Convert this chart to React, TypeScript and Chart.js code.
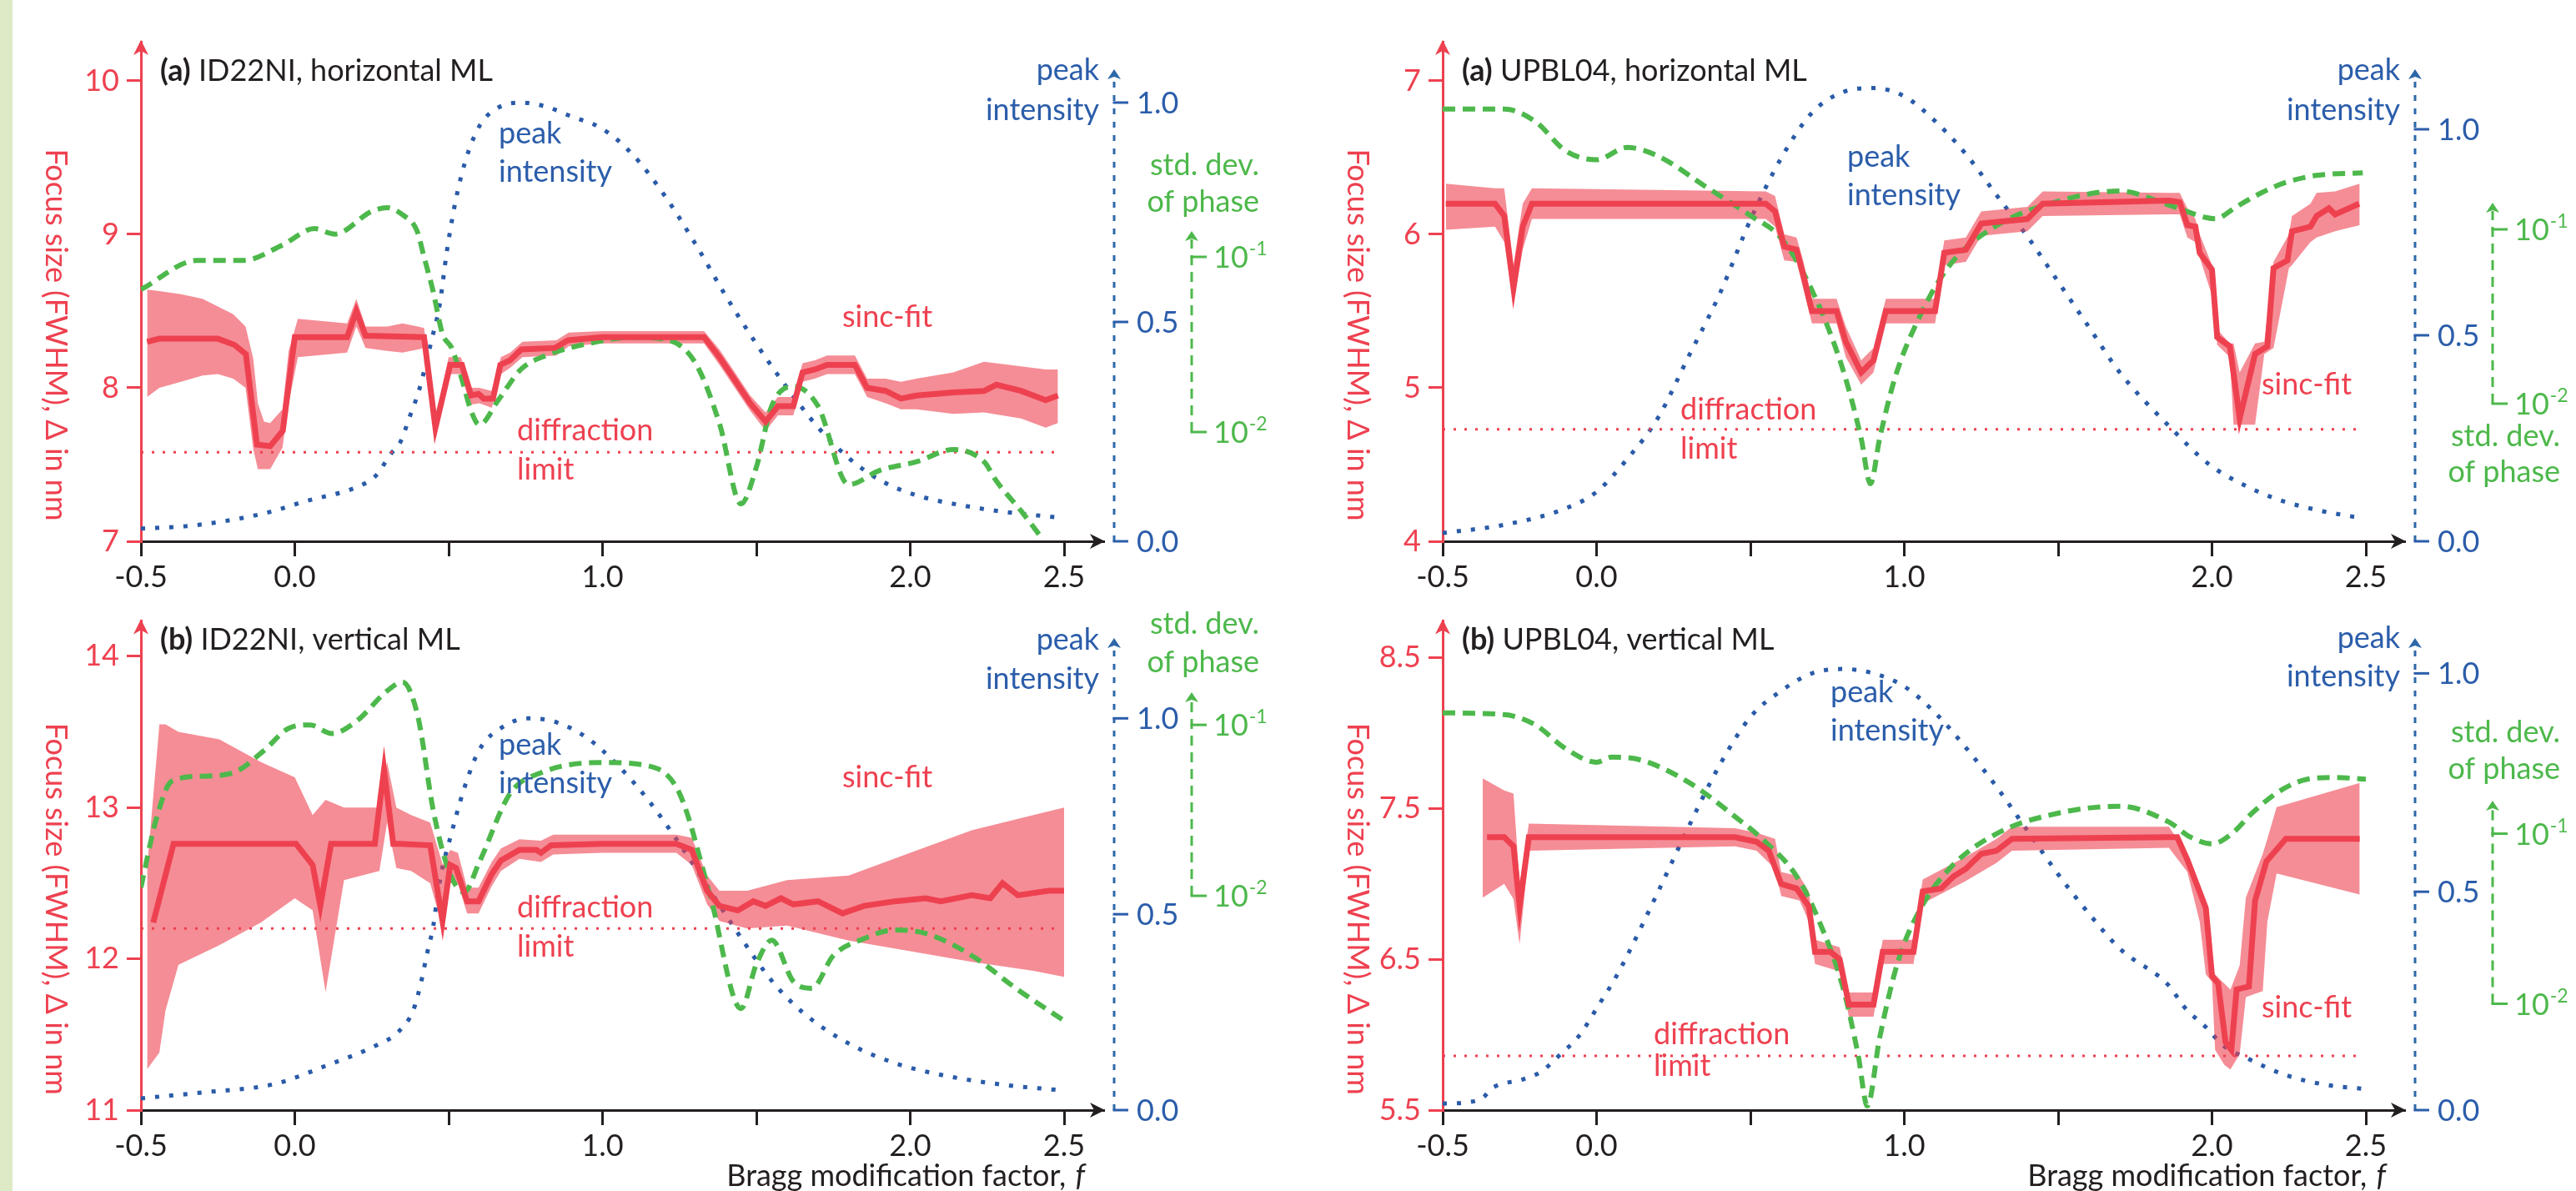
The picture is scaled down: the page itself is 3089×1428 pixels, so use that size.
import React, { useEffect, useRef } from 'react';
import { Chart, registerables } from 'chart.js';
Chart.register(...registerables);

const FONT = 'Lato, "Open Sans", sans-serif';
const RED = '#EE4150';
const BAND = 'rgba(238, 65, 80, 0.6)';
const BLUE = '#2A5BA8';
const BLUE_T = '#2B5DAA';
const BLUE_AXIS = '#2E68A8';
const GREEN = '#4DB84B';
const BLACK = '#231F20';

// ---------- shared tick definitions ----------
const xTickValues = [-0.5, 0, 0.5, 1, 1.5, 2, 2.5];
const xTickLabels = ['-0.5', '0.0', '', '1.0', '', '2.0', '2.5'];
const blueTickValues = [0, 0.5, 1];
const blueTickLabels = ['0.0', '0.5', '1.0'];
const greenTickValues = [0.1, 0.01];
const greenTickExps = ['-1', '-2'];

// ---------- Panel 1: ID22NI horizontal ----------
const p1RedTicks = [7, 8, 9, 10];
const p1RedLabels = ['7', '8', '9', '10'];
const p1SincX = [-0.48, -0.44, -0.25, -0.196, -0.159, -0.123, -0.08, -0.039, 0.0, 0.17, 0.2, 0.23, 0.42, 0.457, 0.505, 0.543, 0.573, 0.597, 0.614, 0.644, 0.668, 0.70, 0.736, 0.845, 0.888, 1.0, 1.33, 1.38, 1.43, 1.48, 1.53, 1.57, 1.62, 1.65, 1.69, 1.73, 1.82, 1.86, 1.92, 1.97, 2.02, 2.14, 2.24, 2.28, 2.36, 2.44, 2.48];
const p1SincY = [8.30, 8.32, 8.32, 8.28, 8.22, 7.63, 7.62, 7.72, 8.33, 8.33, 8.5, 8.34, 8.33, 7.74, 8.15, 8.15, 7.95, 7.96, 7.93, 7.93, 8.15, 8.18, 8.25, 8.26, 8.31, 8.33, 8.33, 8.2, 8.05, 7.9, 7.78, 7.88, 7.88, 8.1, 8.12, 8.15, 8.15, 8.0, 7.98, 7.93, 7.95, 7.97, 7.98, 8.02, 7.98, 7.92, 7.95];
const p1BandX = [-0.48, -0.44, -0.37, -0.30, -0.25, -0.20, -0.16, -0.135, -0.12, -0.10, -0.08, -0.04, -0.02, 0.01, 0.17, 0.2, 0.23, 0.30, 0.35, 0.40, 0.42, 0.46, 0.50, 0.54, 0.57, 0.60, 0.64, 0.67, 0.70, 0.74, 0.85, 0.89, 1.0, 1.33, 1.38, 1.43, 1.48, 1.53, 1.57, 1.62, 1.65, 1.69, 1.73, 1.82, 1.86, 1.92, 1.97, 2.02, 2.14, 2.24, 2.36, 2.44, 2.48];
const p1BandLo = [7.94, 8.00, 8.04, 8.08, 8.09, 8.06, 8.0, 7.6, 7.47, 7.47, 7.47, 7.61, 7.9, 8.20, 8.23, 8.4, 8.26, 8.24, 8.23, 8.25, 8.26, 7.70, 8.09, 8.09, 7.89, 7.9, 7.87, 8.09, 8.13, 8.2, 8.21, 8.27, 8.29, 8.29, 8.15, 8.0, 7.85, 7.72, 7.82, 7.82, 8.04, 8.06, 8.09, 8.09, 7.94, 7.9, 7.86, 7.86, 7.83, 7.84, 7.8, 7.74, 7.77];
const p1BandHi = [8.64, 8.63, 8.61, 8.58, 8.53, 8.48, 8.40, 8.19, 7.9, 7.78, 7.77, 7.86, 8.24, 8.45, 8.42, 8.58, 8.40, 8.40, 8.42, 8.40, 8.39, 7.82, 8.2, 8.2, 8.0, 8.0, 7.98, 8.2, 8.23, 8.3, 8.31, 8.36, 8.37, 8.37, 8.25, 8.1, 7.95, 7.84, 7.94, 7.94, 8.16, 8.18, 8.21, 8.21, 8.06, 8.06, 8.04, 8.06, 8.1, 8.17, 8.14, 8.12, 8.12];
const p1PeakX = [-0.5, -0.36, -0.194, -0.064, 0.023, 0.226, 0.264, 0.313, 0.343, 0.373, 0.402, 0.421, 0.445, 0.47, 0.494, 0.518, 0.54, 0.565, 0.603, 0.652, 0.736, 0.82, 0.893, 1.0, 1.1, 1.2, 1.3, 1.4, 1.5, 1.6, 1.7, 1.8, 1.9, 2.02, 2.2, 2.33, 2.47];
const p1PeakY = [0.029, 0.034, 0.05, 0.07, 0.089, 0.131, 0.15, 0.20, 0.226, 0.283, 0.34, 0.39, 0.46, 0.536, 0.66, 0.76, 0.83, 0.89, 0.95, 0.985, 1.0, 0.99, 0.97, 0.94, 0.88, 0.79, 0.68, 0.56, 0.45, 0.35, 0.26, 0.19, 0.14, 0.105, 0.078, 0.065, 0.055];
const p1StdX = [-0.5, -0.316, -0.166, -0.04, 0.064, 0.13, 0.25, 0.30, 0.35, 0.397, 0.42, 0.45, 0.48, 0.51, 0.54, 0.573, 0.60, 0.66, 0.736, 0.82, 0.94, 1.1, 1.2, 1.3, 1.38, 1.45, 1.5, 1.55, 1.62, 1.7, 1.8, 1.9, 2.02, 2.14, 2.24, 2.28, 2.36, 2.43];
const p1StdY = [0.0652, 0.0955, 0.0955, 0.117, 0.145, 0.135, 0.182, 0.191, 0.174, 0.141, 0.100, 0.0631, 0.0363, 0.0302, 0.0209, 0.0132, 0.0110, 0.0151, 0.0229, 0.0275, 0.0316, 0.0347, 0.0339, 0.0251, 0.0112, 0.00389, 0.00631, 0.0141, 0.0182, 0.0141, 0.00501, 0.00603, 0.00676, 0.00794, 0.00676, 0.00525, 0.00355, 0.00245];
const p1Diffraction = 7.58;

// ---------- Panel 2: UPBL04 horizontal ----------
const p2RedTicks = [4, 5, 6, 7];
const p2RedLabels = ['4', '5', '6', '7'];
const p2SincX = [-0.49, -0.33, -0.30, -0.27, -0.24, -0.21, 0.55, 0.58, 0.61, 0.65, 0.67, 0.70, 0.78, 0.81, 0.86, 0.9, 0.94, 1.1, 1.13, 1.2, 1.25, 1.4, 1.45, 1.86, 1.895, 1.92, 1.946, 1.96, 2.0, 2.017, 2.058, 2.09, 2.14, 2.18, 2.20, 2.245, 2.26, 2.32, 2.34, 2.38, 2.40, 2.478];
const p2SincY = [6.2, 6.2, 6.12, 5.65, 6.05, 6.2, 6.2, 6.15, 5.92, 5.9, 5.75, 5.5, 5.5, 5.3, 5.1, 5.18, 5.5, 5.5, 5.88, 5.9, 6.07, 6.1, 6.2, 6.22, 6.21, 6.06, 6.05, 5.88, 5.77, 5.33, 5.27, 4.80, 5.22, 5.27, 5.78, 5.83, 6.02, 6.05, 6.12, 6.17, 6.13, 6.20];
const p2BandX = [-0.49, -0.33, -0.30, -0.27, -0.24, -0.21, 0.55, 0.58, 0.61, 0.65, 0.67, 0.70, 0.78, 0.81, 0.86, 0.9, 0.94, 1.1, 1.13, 1.2, 1.25, 1.4, 1.45, 1.86, 1.895, 1.92, 1.946, 1.96, 2.0, 2.017, 2.058, 2.07, 2.09, 2.14, 2.17, 2.20, 2.25, 2.26, 2.32, 2.34, 2.40, 2.48];
const p2BandLo = [6.03, 6.05, 5.95, 5.55, 5.9, 6.1, 6.1, 6.05, 5.83, 5.82, 5.66, 5.42, 5.42, 5.2, 5.02, 5.1, 5.42, 5.42, 5.8, 5.82, 5.99, 6.02, 6.12, 6.13, 6.13, 5.98, 5.95, 5.85, 5.6, 5.28, 5.2, 4.76, 4.76, 4.76, 5.22, 5.26, 5.78, 5.8, 5.95, 5.98, 6.02, 6.06];
const p2BandHi = [6.33, 6.3, 6.3, 5.8, 6.2, 6.3, 6.28, 6.25, 6.0, 5.98, 5.84, 5.58, 5.58, 5.4, 5.18, 5.26, 5.58, 5.58, 5.96, 5.98, 6.15, 6.18, 6.28, 6.27, 6.27, 6.17, 6.1, 6.0, 5.8, 5.38, 5.29, 5.29, 5.1, 5.29, 5.3, 5.82, 6.0, 6.12, 6.2, 6.27, 6.28, 6.33];
const p2PeakX = [-0.5, -0.3, -0.1, 0.0, 0.1, 0.2, 0.3, 0.4, 0.5, 0.6, 0.7, 0.8, 0.9, 1.0, 1.1, 1.2, 1.3, 1.4, 1.5, 1.6, 1.7, 1.86, 1.99, 2.1, 2.22, 2.36, 2.48];
const p2PeakY = [0.02, 0.04, 0.08, 0.12, 0.2, 0.3, 0.45, 0.6, 0.78, 0.93, 1.04, 1.09, 1.1, 1.08, 1.02, 0.94, 0.84, 0.74, 0.63, 0.52, 0.41, 0.28, 0.187, 0.138, 0.10, 0.073, 0.057];
const p2StdX = [-0.5, -0.3, -0.2, -0.1, 0.0, 0.1, 0.2, 0.35, 0.5, 0.6, 0.7, 0.8, 0.86, 0.89, 0.92, 0.97, 1.05, 1.15, 1.3, 1.5, 1.7, 1.86, 1.98, 2.01, 2.08, 2.16, 2.24, 2.34, 2.49];
const p2StdY = [0.490, 0.490, 0.417, 0.282, 0.251, 0.295, 0.263, 0.178, 0.120, 0.0891, 0.0447, 0.0158, 0.00631, 0.00347, 0.00631, 0.0141, 0.0316, 0.0631, 0.105, 0.145, 0.166, 0.138, 0.117, 0.115, 0.135, 0.162, 0.186, 0.204, 0.211];
const p2Diffraction = 4.73;

// ---------- Panel 3: ID22NI vertical ----------
const p3RedTicks = [11, 12, 13, 14];
const p3RedLabels = ['11', '12', '13', '14'];
const p3SincX = [-0.46, -0.394, 0.004, 0.058, 0.083, 0.118, 0.26, 0.29, 0.32, 0.343, 0.44, 0.48, 0.505, 0.524, 0.56, 0.597, 0.64, 0.67, 0.73, 0.785, 0.80, 0.833, 1.0, 1.24, 1.29, 1.34, 1.38, 1.44, 1.49, 1.53, 1.58, 1.62, 1.7, 1.78, 1.85, 1.95, 2.05, 2.1, 2.2, 2.26, 2.3, 2.35, 2.45, 2.5];
const p3SincY = [12.24, 12.76, 12.76, 12.62, 12.35, 12.76, 12.76, 13.25, 12.76, 12.76, 12.75, 12.25, 12.62, 12.6, 12.38, 12.38, 12.56, 12.65, 12.72, 12.72, 12.70, 12.75, 12.76, 12.76, 12.72, 12.45, 12.35, 12.32, 12.38, 12.35, 12.4, 12.36, 12.38, 12.3, 12.35, 12.38, 12.4, 12.38, 12.42, 12.4, 12.5, 12.42, 12.45, 12.45];
const p3BandX = [-0.48, -0.44, -0.42, -0.378, -0.245, -0.11, 0.0, 0.058, 0.10, 0.16, 0.275, 0.30, 0.33, 0.378, 0.44, 0.481, 0.505, 0.53, 0.56, 0.597, 0.64, 0.67, 0.73, 0.8, 0.84, 1.0, 1.24, 1.29, 1.34, 1.38, 1.47, 1.6, 1.8, 2.0, 2.2, 2.4, 2.5];
const p3BandLo = [11.27, 11.38, 11.66, 11.96, 12.09, 12.24, 12.4, 12.32, 11.78, 12.52, 12.58, 12.9, 12.6, 12.58, 12.5, 12.2, 12.5, 12.5, 12.3, 12.3, 12.48, 12.58, 12.66, 12.64, 12.69, 12.7, 12.7, 12.62, 12.36, 12.25, 12.2, 12.22, 12.12, 12.05, 11.98, 11.92, 11.88];
const p3BandHi = [12.6, 13.55, 13.55, 13.5, 13.45, 13.3, 13.2, 12.95, 13.05, 13.0, 13.0, 13.3, 13.0, 12.95, 12.9, 12.62, 12.72, 12.7, 12.47, 12.47, 12.64, 12.73, 12.79, 12.78, 12.82, 12.82, 12.82, 12.8, 12.55, 12.45, 12.45, 12.52, 12.55, 12.7, 12.85, 12.95, 13.0];
const p3PeakX = [-0.5, -0.3, -0.064, 0.107, 0.264, 0.337, 0.385, 0.41, 0.43, 0.45, 0.465, 0.48, 0.5, 0.55, 0.6, 0.68, 0.76, 0.85, 0.95, 1.05, 1.15, 1.25, 1.35, 1.45, 1.55, 1.65, 1.8, 1.95, 2.1, 2.3, 2.5];
const p3PeakY = [0.03, 0.045, 0.067, 0.115, 0.165, 0.2, 0.255, 0.325, 0.40, 0.47, 0.555, 0.62, 0.68, 0.82, 0.92, 0.98, 1.0, 0.99, 0.95, 0.88, 0.79, 0.68, 0.56, 0.44, 0.33, 0.25, 0.17, 0.12, 0.09, 0.065, 0.05];
const p3StdX = [-0.5, -0.45, -0.4, -0.3, -0.2, -0.1, -0.02, 0.05, 0.12, 0.2, 0.3, 0.35, 0.4, 0.45, 0.5, 0.55, 0.6, 0.7, 0.8, 1.0, 1.15, 1.25, 1.35, 1.45, 1.5, 1.55, 1.62, 1.68, 1.75, 1.85, 1.95, 2.05, 2.2, 2.35, 2.5];
const p3StdY = [0.0112, 0.0282, 0.0468, 0.0501, 0.0525, 0.0708, 0.0955, 0.100, 0.0891, 0.105, 0.158, 0.178, 0.112, 0.0316, 0.0141, 0.0105, 0.0158, 0.0398, 0.0525, 0.0603, 0.0575, 0.0398, 0.0100, 0.00219, 0.00398, 0.00550, 0.00316, 0.00288, 0.00447, 0.00562, 0.00631, 0.00603, 0.00447, 0.00282, 0.00186];
const p3Diffraction = 12.2;

// ---------- Panel 4: UPBL04 vertical ----------
const p4RedTicks = [5.5, 6.5, 7.5, 8.5];
const p4RedLabels = ['5.5', '6.5', '7.5', '8.5'];
const p4SincX = [-0.356, -0.3, -0.27, -0.25, -0.22, 0.45, 0.52, 0.56, 0.6, 0.65, 0.69, 0.71, 0.76, 0.79, 0.82, 0.9, 0.93, 1.03, 1.06, 1.12, 1.16, 1.2, 1.25, 1.3, 1.35, 1.86, 1.887, 1.92, 1.98, 2.0, 2.02, 2.044, 2.063, 2.08, 2.12, 2.14, 2.177, 2.24, 2.48];
const p4SincY = [7.31, 7.31, 7.25, 6.85, 7.31, 7.31, 7.28, 7.22, 7.0, 6.97, 6.85, 6.55, 6.55, 6.5, 6.2, 6.2, 6.55, 6.55, 6.95, 6.97, 7.05, 7.1, 7.2, 7.22, 7.3, 7.31, 7.31, 7.16, 6.84, 6.39, 6.34, 5.95, 5.90, 6.30, 6.32, 6.89, 7.15, 7.30, 7.30];
const p4BandX = [-0.37, -0.3, -0.27, -0.25, -0.22, 0.45, 0.52, 0.58, 0.6, 0.66, 0.69, 0.71, 0.79, 0.82, 0.9, 0.93, 1.03, 1.06, 1.2, 1.3, 1.35, 1.86, 1.92, 1.96, 1.98, 2.0, 2.01, 2.04, 2.06, 2.09, 2.11, 2.165, 2.18, 2.21, 2.48];
const p4BandLo = [6.91, 7.0, 6.9, 6.6, 7.22, 7.25, 7.22, 7.1, 6.92, 6.89, 6.75, 6.47, 6.42, 6.12, 6.12, 6.47, 6.47, 6.87, 7.02, 7.14, 7.22, 7.24, 7.08, 6.75, 6.40, 6.35, 5.90, 5.8, 5.77, 5.87, 6.25, 6.29, 6.75, 7.07, 6.93];
const p4BandHi = [7.70, 7.62, 7.6, 7.0, 7.4, 7.37, 7.34, 7.3, 7.08, 7.05, 6.95, 6.63, 6.58, 6.28, 6.28, 6.63, 6.63, 7.03, 7.18, 7.3, 7.38, 7.38, 7.2, 6.95, 6.88, 6.45, 6.40, 6.34, 6.3, 6.46, 6.91, 7.2, 7.3, 7.51, 7.67];
const p4PeakX = [-0.5, -0.42, -0.37, -0.34, -0.237, -0.18, -0.12, -0.058, 0.01, 0.056, 0.097, 0.2, 0.3, 0.4, 0.5, 0.6, 0.7, 0.8, 0.9, 1.0, 1.1, 1.2, 1.3, 1.4, 1.5, 1.6, 1.7, 1.86, 1.91, 1.98, 2.04, 2.11, 2.24, 2.37, 2.49];
const p4PeakY = [0.015, 0.018, 0.028, 0.05, 0.071, 0.088, 0.126, 0.169, 0.244, 0.296, 0.35, 0.5, 0.65, 0.79, 0.9, 0.96, 1.0, 1.01, 1.0, 0.97, 0.91, 0.83, 0.74, 0.64, 0.54, 0.45, 0.37, 0.285, 0.236, 0.19, 0.146, 0.12, 0.08, 0.058, 0.049];
const p4StdX = [-0.5, -0.3, -0.2, -0.1, 0.0, 0.05, 0.15, 0.3, 0.45, 0.55, 0.65, 0.72, 0.8, 0.85, 0.88, 0.92, 0.98, 1.05, 1.15, 1.3, 1.5, 1.7, 1.86, 1.93, 2.0, 2.07, 2.13, 2.22, 2.31, 2.4, 2.5];
const p4StdY = [0.513, 0.501, 0.437, 0.316, 0.263, 0.282, 0.269, 0.200, 0.126, 0.0891, 0.0562, 0.0316, 0.0126, 0.00501, 0.00251, 0.00631, 0.0178, 0.0355, 0.0631, 0.100, 0.132, 0.145, 0.117, 0.0955, 0.0871, 0.102, 0.132, 0.178, 0.209, 0.214, 0.209];
const p4Diffraction = 5.86;

// ---------- layout ----------
type Txt = { t: string; x: number; y: number; c: string; a?: CanvasTextAlign };
type Panel = {
  canvas: { left: number; top: number; width: number; height: number };
  area: { left: number; right: number; top: number; bottom: number };
  red: [number, number, number, number];
  blue: [number, number, number, number];
  green: [number, number, number, number];
  redTicks: number[]; redLabels: string[];
  sincX: number[]; sincY: number[];
  bandX: number[]; bandLo: number[]; bandHi: number[];
  peakX: number[]; peakY: number[];
  stdX: number[]; stdY: number[];
  diff: number;
  title: [string, string]; titleBase: number;
  blueTip: number; greenTip: number;
  texts: Txt[];
  xTitle: boolean;
};

const panels: Panel[] = [
  {
    canvas: { left: 0, top: 0, width: 1545, height: 714 },
    area: { left: 169, right: 1323, top: 50, bottom: 649 },
    red: [7, 649, 10, 97], blue: [0, 649, 1, 123], green: [-1, 308, -2, 518],
    redTicks: p1RedTicks, redLabels: p1RedLabels,
    sincX: p1SincX, sincY: p1SincY, bandX: p1BandX, bandLo: p1BandLo, bandHi: p1BandHi,
    peakX: p1PeakX, peakY: p1PeakY, stdX: p1StdX, stdY: p1StdY, diff: p1Diffraction,
    title: ['(a)', ' ID22NI, horizontal ML'], titleBase: 97,
    blueTip: 83, greenTip: 277,
    texts: [
      { t: 'peak', x: 598, y: 172, c: BLUE_T }, { t: 'intensity', x: 598, y: 218, c: BLUE_T },
      { t: 'sinc-fit', x: 1010, y: 392, c: RED },
      { t: 'diffraction', x: 620, y: 528, c: RED }, { t: 'limit', x: 620, y: 575, c: RED },
      { t: 'peak', x: 1318, y: 96, c: BLUE_T, a: 'right' }, { t: 'intensity', x: 1318, y: 144, c: BLUE_T, a: 'right' },
      { t: 'std. dev.', x: 1510, y: 210, c: GREEN, a: 'right' }, { t: 'of phase', x: 1510, y: 254, c: GREEN, a: 'right' },
    ],
    xTitle: false,
  },
  {
    canvas: { left: 1545, top: 0, width: 1544, height: 714 },
    area: { left: 1730, right: 2883, top: 50, bottom: 649 },
    red: [4, 649, 7, 97], blue: [0, 649, 1, 155], green: [-1, 275, -2, 484],
    redTicks: p2RedTicks, redLabels: p2RedLabels,
    sincX: p2SincX, sincY: p2SincY, bandX: p2BandX, bandLo: p2BandLo, bandHi: p2BandHi,
    peakX: p2PeakX, peakY: p2PeakY, stdX: p2StdX, stdY: p2StdY, diff: p2Diffraction,
    title: ['(a)', ' UPBL04, horizontal ML'], titleBase: 97,
    blueTip: 83, greenTip: 243,
    texts: [
      { t: 'peak', x: 2215, y: 200, c: BLUE_T }, { t: 'intensity', x: 2215, y: 246, c: BLUE_T },
      { t: 'sinc-fit', x: 2712, y: 473, c: RED },
      { t: 'diffraction', x: 2015, y: 503, c: RED }, { t: 'limit', x: 2015, y: 550, c: RED },
      { t: 'peak', x: 2878, y: 96, c: BLUE_T, a: 'right' }, { t: 'intensity', x: 2878, y: 144, c: BLUE_T, a: 'right' },
      { t: 'std. dev.', x: 3070, y: 535, c: GREEN, a: 'right' }, { t: 'of phase', x: 3070, y: 578, c: GREEN, a: 'right' },
    ],
    xTitle: false,
  },
  {
    canvas: { left: 0, top: 714, width: 1545, height: 714 },
    area: { left: 169, right: 1323, top: 733, bottom: 1331 },
    red: [11, 1331, 14, 776], blue: [0, 1331, 1, 852], green: [-1, 860, -2, 1069],
    redTicks: p3RedTicks, redLabels: p3RedLabels,
    sincX: p3SincX, sincY: p3SincY, bandX: p3BandX, bandLo: p3BandLo, bandHi: p3BandHi,
    peakX: p3PeakX, peakY: p3PeakY, stdX: p3StdX, stdY: p3StdY, diff: p3Diffraction,
    title: ['(b)', ' ID22NI, vertical ML'], titleBase: 779,
    blueTip: 765, greenTip: 830,
    texts: [
      { t: 'peak', x: 598, y: 905, c: BLUE_T }, { t: 'intensity', x: 598, y: 951, c: BLUE_T },
      { t: 'sinc-fit', x: 1010, y: 944, c: RED },
      { t: 'diffraction', x: 620, y: 1100, c: RED }, { t: 'limit', x: 620, y: 1147, c: RED },
      { t: 'peak', x: 1318, y: 779, c: BLUE_T, a: 'right' }, { t: 'intensity', x: 1318, y: 826, c: BLUE_T, a: 'right' },
      { t: 'std. dev.', x: 1510, y: 760, c: GREEN, a: 'right' }, { t: 'of phase', x: 1510, y: 806, c: GREEN, a: 'right' },
    ],
    xTitle: true,
  },
  {
    canvas: { left: 1545, top: 714, width: 1544, height: 714 },
    area: { left: 1730, right: 2883, top: 733, bottom: 1331 },
    red: [5.5, 1331, 8.5, 778], blue: [0, 1331, 1, 797], green: [-1, 993, -2, 1201],
    redTicks: p4RedTicks, redLabels: p4RedLabels,
    sincX: p4SincX, sincY: p4SincY, bandX: p4BandX, bandLo: p4BandLo, bandHi: p4BandHi,
    peakX: p4PeakX, peakY: p4PeakY, stdX: p4StdX, stdY: p4StdY, diff: p4Diffraction,
    title: ['(b)', ' UPBL04, vertical ML'], titleBase: 779,
    blueTip: 765, greenTip: 960,
    texts: [
      { t: 'peak', x: 2195, y: 842, c: BLUE_T }, { t: 'intensity', x: 2195, y: 888, c: BLUE_T },
      { t: 'sinc-fit', x: 2712, y: 1220, c: RED },
      { t: 'diffraction', x: 1983, y: 1252, c: RED }, { t: 'limit', x: 1983, y: 1290, c: RED },
      { t: 'peak', x: 2878, y: 777, c: BLUE_T, a: 'right' }, { t: 'intensity', x: 2878, y: 823, c: BLUE_T, a: 'right' },
      { t: 'std. dev.', x: 3070, y: 890, c: GREEN, a: 'right' }, { t: 'of phase', x: 3070, y: 934, c: GREEN, a: 'right' },
    ],
    xTitle: true,
  },
];

const X_MIN = -0.5;
const X_PX_PER_UNIT = 369;
const DIFF_END = 2.475;
const TXT = 36;
const TITLE_TXT = 36;

function lin(cal: [number, number, number, number], px: number) {
  const [v0, p0, v1, p1] = cal;
  return v0 + (px - p0) * (v1 - v0) / (p1 - p0);
}

function makeDecor(p: Panel) {
  return {
    id: 'decor',
    afterDraw(chart: any) {
      const ctx: CanvasRenderingContext2D = chart.ctx;
      const ox = p.canvas.left, oy = p.canvas.top;
      const X = (v: number) => v - ox;
      const Y = (v: number) => v - oy;
      const ca = chart.chartArea;
      const font = (size: number, extra = '') => `${extra}${size}px ${FONT}`;
      ctx.save();
      // x-axis arrow
      ctx.fillStyle = BLACK;
      ctx.beginPath();
      ctx.moveTo(ca.right + 2, ca.bottom);
      ctx.lineTo(ca.right - 16, ca.bottom - 9);
      ctx.lineTo(ca.right - 11, ca.bottom);
      ctx.lineTo(ca.right - 16, ca.bottom + 9);
      ctx.closePath();
      ctx.fill();
      // red y arrow
      ctx.fillStyle = RED;
      ctx.beginPath();
      ctx.moveTo(ca.left, ca.top - 2);
      ctx.lineTo(ca.left - 9, ca.top + 16);
      ctx.lineTo(ca.left, ca.top + 11);
      ctx.lineTo(ca.left + 9, ca.top + 16);
      ctx.closePath();
      ctx.fill();

      // blue axis
      const sb = chart.scales.b;
      const bx = ca.right + 13;
      const by0 = sb.getPixelForValue(0);
      const btip = Y(p.blueTip);
      ctx.strokeStyle = BLUE_AXIS;
      ctx.lineWidth = 3;
      ctx.setLineDash([7, 9]);
      ctx.beginPath();
      ctx.moveTo(bx, by0);
      ctx.lineTo(bx, btip + 10);
      ctx.stroke();
      ctx.setLineDash([]);
      ctx.fillStyle = BLUE_AXIS;
      ctx.beginPath();
      ctx.moveTo(bx, btip);
      ctx.lineTo(bx - 8, btip + 12);
      ctx.lineTo(bx, btip + 9);
      ctx.lineTo(bx + 8, btip + 12);
      ctx.closePath();
      ctx.fill();
      ctx.strokeStyle = BLUE_T;
      ctx.fillStyle = BLUE_T;
      ctx.font = font(TXT);
      ctx.textAlign = 'left';
      ctx.textBaseline = 'alphabetic';
      blueTickValues.forEach((v, i) => {
        const y = sb.getPixelForValue(v);
        ctx.beginPath();
        ctx.moveTo(bx - 1.5, y);
        ctx.lineTo(bx + 17, y);
        ctx.stroke();
        ctx.fillText(blueTickLabels[i], bx + 27, y + 13);
      });

      // green axis
      const sg = chart.scales.g;
      const gx = ca.right + 106;
      const gLow = sg.getPixelForValue(0.01);
      const gtip = Y(p.greenTip);
      ctx.strokeStyle = GREEN;
      ctx.lineWidth = 3;
      ctx.setLineDash([12, 8]);
      ctx.beginPath();
      ctx.moveTo(gx, gLow);
      ctx.lineTo(gx, gtip + 10);
      ctx.stroke();
      ctx.setLineDash([]);
      ctx.fillStyle = GREEN;
      ctx.beginPath();
      ctx.moveTo(gx, gtip);
      ctx.lineTo(gx - 8, gtip + 12);
      ctx.lineTo(gx, gtip + 9);
      ctx.lineTo(gx + 8, gtip + 12);
      ctx.closePath();
      ctx.fill();
      greenTickValues.forEach((v, i) => {
        const y = sg.getPixelForValue(v);
        ctx.beginPath();
        ctx.moveTo(gx - 1.5, y);
        ctx.lineTo(gx + 18, y);
        ctx.stroke();
        ctx.font = font(TXT);
        ctx.textAlign = 'left';
        ctx.fillText('10', gx + 26, y + 13);
        const w = ctx.measureText('10').width;
        ctx.font = font(23);
        ctx.fillText(greenTickExps[i], gx + 27 + w, y - 2);
      });

      // annotations
      ctx.textBaseline = 'alphabetic';
      p.texts.forEach((t) => {
        ctx.font = font(TXT);
        ctx.fillStyle = t.c;
        ctx.textAlign = t.a || 'left';
        ctx.fillText(t.t, X(t.x), Y(t.y));
      });

      // panel title
      ctx.fillStyle = BLACK;
      ctx.textAlign = 'left';
      ctx.font = font(TITLE_TXT, 'bold ');
      const tx = ca.left + 23;
      ctx.fillText(p.title[0], tx, Y(p.titleBase));
      const tw = ctx.measureText(p.title[0]).width;
      ctx.font = font(TITLE_TXT);
      ctx.fillText(p.title[1], tx + tw, Y(p.titleBase));

      // red y title (rotated, reading downwards)
      ctx.save();
      ctx.translate(ca.left - 102, (ca.top + ca.bottom) / 2 + 52);
      ctx.rotate(Math.PI / 2);
      ctx.fillStyle = RED;
      ctx.font = font(36);
      ctx.textAlign = 'center';
      ctx.textBaseline = 'middle';
      ctx.fillText('Focus size (FWHM), \u0394 in nm', 0, 0);
      ctx.restore();

      // x title
      if (p.xTitle) {
        ctx.fillStyle = BLACK;
        ctx.font = font(36, 'italic ');
        const fw = ctx.measureText('f').width;
        ctx.textAlign = 'right';
        const rx = ca.right - 22;
        const base = Y(1422);
        ctx.fillText('f', rx, base);
        ctx.font = font(36);
        ctx.fillText('Bragg modification factor, ', rx - fw - 2, base);
      }
      ctx.restore();
    },
  };
}

function PanelChart({ p }: { p: Panel }) {
  const ref = useRef<HTMLCanvasElement | null>(null);
  useEffect(() => {
    const canvas = ref.current;
    if (!canvas) return;
    const a = p.area, c = p.canvas;
    const xMax = X_MIN + (a.right - a.left) / X_PX_PER_UNIT;
    const redMin = lin(p.red, a.bottom), redMax = lin(p.red, a.top);
    const blueMin = lin(p.blue, a.bottom), blueMax = lin(p.blue, a.top);
    const gMin = Math.pow(10, lin(p.green, a.bottom)), gMax = Math.pow(10, lin(p.green, a.top));
    const pts = (xs: number[], ys: number[]) => xs.map((x, i) => ({ x, y: ys[i] }));
    const chart = new Chart(canvas, {
      type: 'line',
      data: {
        datasets: [
          { label: 'sinc-fit', data: pts(p.sincX, p.sincY), yAxisID: 'y', borderColor: RED, borderWidth: 7, pointRadius: 0, fill: false, order: 1, borderJoinStyle: 'miter', tension: 0 } as any,
          { label: 'std. dev. of phase', data: pts(p.stdX, p.stdY), yAxisID: 'g', borderColor: GREEN, borderWidth: 6, borderDash: [15, 9], pointRadius: 0, fill: false, order: 2, cubicInterpolationMode: 'monotone' } as any,
          { label: 'diffraction limit', data: [{ x: X_MIN, y: p.diff }, { x: DIFF_END, y: p.diff }], yAxisID: 'y', borderColor: RED, borderWidth: 3, borderDash: [3, 10], pointRadius: 0, fill: false, order: 3 } as any,
          { label: 'band-lo', data: pts(p.bandX, p.bandLo), yAxisID: 'y', borderWidth: 0, borderColor: 'rgba(0,0,0,0)', pointRadius: 0, fill: false, order: 4 } as any,
          { label: 'band-hi', data: pts(p.bandX, p.bandHi), yAxisID: 'y', borderWidth: 0, borderColor: 'rgba(0,0,0,0)', backgroundColor: BAND, pointRadius: 0, fill: '-1', order: 4 } as any,
          { label: 'peak intensity', data: pts(p.peakX, p.peakY), yAxisID: 'b', borderColor: BLUE, borderWidth: 5, borderDash: [5, 12], pointRadius: 0, fill: false, order: 6, cubicInterpolationMode: 'monotone' } as any,
        ],
      },
      options: {
        responsive: false,
        animation: false,
        events: [],
        layout: {
          autoPadding: false,
          padding: { left: 0, top: a.top - c.top, right: c.width - (a.right - c.left), bottom: 0 },
        },
        plugins: { legend: { display: false }, tooltip: { enabled: false }, title: { display: false } },
        scales: {
          x: {
            type: 'linear', min: X_MIN, max: xMax, position: 'bottom',
            afterBuildTicks: (s: any) => { s.ticks = xTickValues.map((v) => ({ value: v })); },
            afterFit: (s: any) => { s.height = c.height - (a.bottom - c.top); },
            ticks: {
              autoSkip: false, maxRotation: 0, padding: 4, color: BLACK,
              font: { family: FONT, size: TXT },
              callback: (_v: any, i: number) => xTickLabels[i],
            },
            grid: { drawOnChartArea: false, drawTicks: true, tickLength: 18, tickColor: BLACK, tickWidth: 3, color: BLACK, lineWidth: 3 },
            border: { display: true, color: BLACK, width: 3 },
          },
          y: {
            type: 'linear', position: 'left', min: redMin, max: redMax,
            afterBuildTicks: (s: any) => { s.ticks = p.redTicks.map((v) => ({ value: v })); },
            afterFit: (s: any) => { s.width = a.left - c.left; },
            ticks: {
              padding: 9, color: RED, font: { family: FONT, size: TXT },
              callback: (_v: any, i: number) => p.redLabels[i],
            },
            grid: { drawOnChartArea: false, drawTicks: true, tickLength: 17, tickColor: RED, tickWidth: 3, color: RED, lineWidth: 3 },
            border: { display: true, color: RED, width: 3 },
          },
          b: { type: 'linear', display: false, min: blueMin, max: blueMax },
          g: { type: 'logarithmic', display: false, min: gMin, max: gMax },
        },
      } as any,
      plugins: [makeDecor(p)],
    });
    return () => chart.destroy();
  }, [p]);
  return (
    <canvas
      ref={ref}
      width={p.canvas.width}
      height={p.canvas.height}
      style={{ position: 'absolute', left: p.canvas.left, top: p.canvas.top, width: p.canvas.width, height: p.canvas.height }}
    />
  );
}

export default function App() {
  return (
    <div style={{ position: 'absolute', left: 0, top: 0, width: 3089, height: 1428, background: '#ffffff', overflow: 'hidden' }}>
      <div style={{ position: 'absolute', left: 0, top: 0, width: 15, height: 1428, background: '#DDEAC5' }} />
      {panels.map((p, i) => <PanelChart key={i} p={p} />)}
    </div>
  );
}
